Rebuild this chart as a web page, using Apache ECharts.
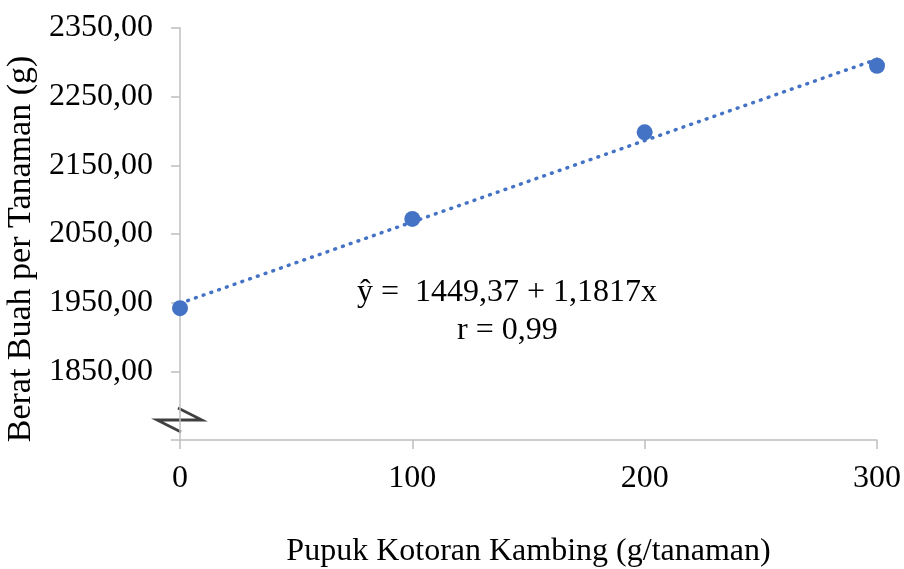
<!DOCTYPE html>
<html>
<head>
<meta charset="utf-8">
<script src="https://cdn.jsdelivr.net/npm/echarts@6/dist/echarts.min.js"></script>
<style>
  html, body { margin: 0; padding: 0; background: #fff; }
  #chart { width: 904px; height: 569px; }
</style>
</head>
<body>
<div id="chart"></div>
<script>
var doses = [0, 100, 200, 300];
var weights = [1942, 2072, 2198, 2295];
var yTicks = [1750, 1850, 1950, 2050, 2150, 2250, 2350];
var equationText = 'ŷ =  1449,37 + 1,1817x';
var rText = 'r = 0,99';

var FONT = '"Liberation Serif", "Times New Roman", serif';
var AXIS_COLOR = '#bfbfbf';
var BLUE = '#4472c4';

// garis trend (least squares dari titik data)
function linearFit(xs, ys) {
    var n = xs.length, sx = 0, sy = 0, sxy = 0, sxx = 0;
    for (var i = 0; i < n; i++) {
        sx += xs[i]; sy += ys[i];
        sxy += xs[i] * ys[i]; sxx += xs[i] * xs[i];
    }
    var b = (n * sxy - sx * sy) / (n * sxx - sx * sx);
    var a = (sy - b * sx) / n;
    return { a: a, b: b };
}
var fit = linearFit(doses, weights);
var xMin = doses[0], xMax = doses[doses.length - 1];
var trend = [[xMin, fit.a + fit.b * xMin], [xMax, fit.a + fit.b * xMax]];

var chart = echarts.init(document.getElementById('chart'));

var option = {
    animation: false,
    backgroundColor: '#fff',
    grid: { left: 180, right: 27, top: 28, bottom: 129, containLabel: false, outerBoundsMode: 'none' },
    xAxis: {
        type: 'value',
        min: 0,
        max: 300,
        interval: 100,
        name: 'Pupuk Kotoran Kambing (g/tanaman)',
        nameLocation: 'middle',
        nameGap: 96,
        nameTextStyle: { fontFamily: FONT, fontSize: 32, color: '#000' },
        axisLine: { show: true, lineStyle: { color: AXIS_COLOR, width: 1.5 } },
        axisTick: { show: true, length: 9, inside: false, lineStyle: { color: AXIS_COLOR, width: 1.5 } },
        splitLine: { show: false },
        axisLabel: { fontFamily: FONT, fontSize: 32, color: '#000', margin: 23 }
    },
    yAxis: {
        type: 'value',
        min: yTicks[0],
        max: yTicks[yTicks.length - 1],
        interval: 100,
        name: 'Berat Buah per Tanaman (g)',
        nameLocation: 'middle',
        nameGap: 136,
        nameTextStyle: { fontFamily: FONT, fontSize: 34, color: '#000', padding: [0, 30, 0, 0] },
        axisLine: { show: true, lineStyle: { color: AXIS_COLOR, width: 1.5 } },
        axisTick: { show: true, length: 9, lineStyle: { color: AXIS_COLOR, width: 1.5 } },
        splitLine: { show: false },
        axisLabel: {
            fontFamily: FONT, fontSize: 32, color: '#000', margin: 27,
            formatter: function (v) {
                if (v === yTicks[0]) return '';
                return v.toFixed(2).replace('.', ',');
            }
        }
    },
    series: [
        {
            type: 'line',
            data: trend,
            symbol: 'none',
            lineStyle: { color: BLUE, width: 3.5, type: [0.8, 7.4], cap: 'round' },
            z: 2
        },
        {
            type: 'scatter',
            data: doses.map(function (d, i) { return [d, weights[i]]; }),
            symbolSize: 16,
            itemStyle: { color: BLUE, opacity: 1 },
            z: 3
        }
    ],
    graphic: [
        {
            type: 'text',
            left: 357,
            top: 277,
            style: { text: equationText, fontFamily: FONT, fontSize: 32, fill: '#000' }
        },
        {
            type: 'text',
            left: 457,
            top: 315,
            style: { text: rText, fontFamily: FONT, fontSize: 32, fill: '#000' }
        },
        {
            // tanda patahan sumbu
            type: 'group',
            z: 100,
            children: [
                { type: 'rect', shape: { x: 174, y: 409, width: 12, height: 22 }, style: { fill: '#fff' } },
                {
                    type: 'polyline',
                    shape: { points: [[178, 408], [202, 420], [157, 420], [181, 432]] },
                    style: { stroke: '#404040', lineWidth: 2.8, fill: null, lineJoin: 'miter' }
                }
            ]
        }
    ]
};

chart.setOption(option);
</script>
</body>
</html>
